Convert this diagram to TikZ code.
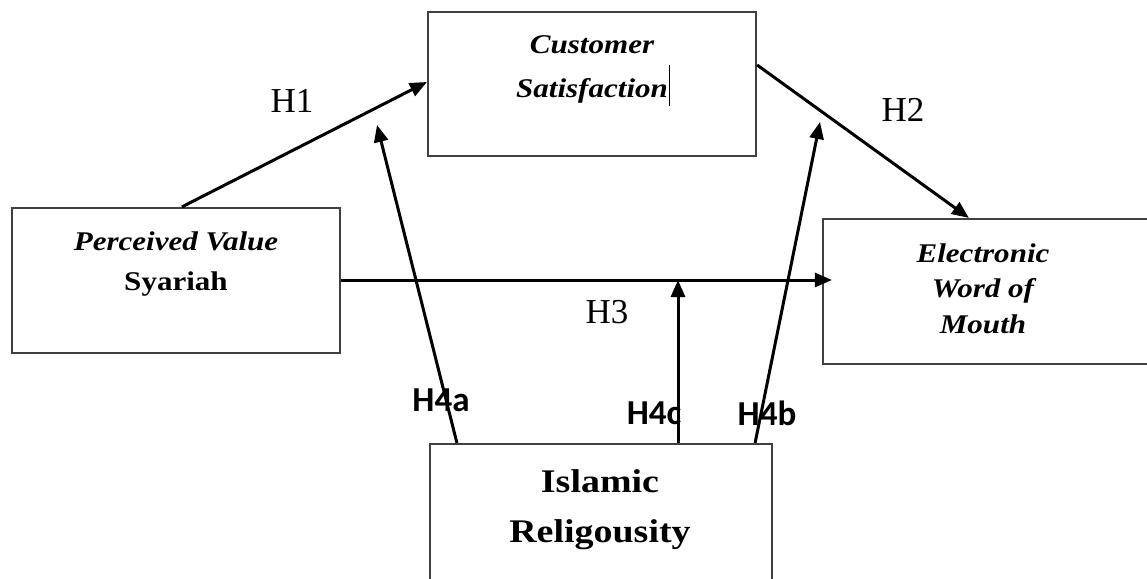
\documentclass[tikz,border=0pt]{standalone}
\usepackage{fontspec}
\setmainfont{Liberation Serif}
\newfontfamily\boxfont[FakeStretch=1.15]{Liberation Serif}
\newfontfamily\hfont{Carlito}
\usetikzlibrary{arrows.meta,calc}
\tikzset{
  varbox/.style={draw=black!75, line width=2.2pt, rectangle, inner sep=0pt},
  boxtext/.style={align=center, inner sep=0pt, anchor=base},
  hyp/.style={inner sep=0pt, font=\fontsize{35}{40}\selectfont},
  hyplab/.style={inner sep=0pt, font=\hfont\bfseries\fontsize{35}{40}\selectfont},
  arr/.style={line width=3pt, -{Triangle[length=17pt,width=14pt]}},
}
\begin{document}
\begin{tikzpicture}[x=1pt,y=-1pt]
\useasboundingbox[fill=white] (0,0) rectangle (1147,578);
% boxes
\node[varbox, minimum width=328pt, minimum height=144pt] (cs) at (592,84) {};
\node[varbox, minimum width=328pt, minimum height=145pt] (pv) at (176,280.5) {};
\node[varbox, minimum width=340pt, minimum height=145pt] (ew) at (993,291.5) {};
\node[varbox, minimum width=342pt, minimum height=180pt] (ir) at (601,534) {};
% box texts (anchor = baseline of last line)
\node[boxtext, font=\boxfont\bfseries\itshape\fontsize{27}{44}\selectfont] (cst) at (592,97)
  {Customer\\Satisfaction\rlap{\hspace{1pt}\rule[-9pt]{1.2pt}{41pt}}};
\node[boxtext, font=\boxfont\bfseries\fontsize{27}{40}\selectfont] (pvt) at (176,290)
  {\itshape Perceived Value\\Syariah};
\node[boxtext, font=\boxfont\bfseries\itshape\fontsize{27}{35.5}\selectfont] (ewt) at (983,333)
  {Electronic\\Word of\\Mouth};
\node[boxtext, font=\boxfont\bfseries\fontsize{33}{50}\selectfont] (irt) at (600,542)
  {Islamic\\Religousity};
% free ends
\coordinate (h4atip) at (377,125);
\coordinate (h4btip) at (820,122);
\coordinate (h4ctip) at (678,280);
% connectors
\draw[arr] ([xshift=171pt]pv.north west) -- ([yshift=2pt]cs.west);
\draw[arr] ([yshift=19pt]cs.east) -- ([xshift=147pt]ew.north west);
\draw[arr] (pv.east |- h4ctip) -- ($(pv.east -| ew.west)+(10,-0.5)$);
\draw[arr] ([xshift=28pt]ir.north west) -- (h4atip);
\draw[arr] (ir.north -| h4ctip) -- (h4ctip);
\draw[arr] ([xshift=-18pt]ir.north east) -- (h4btip);
% labels
\node[hyp] (h1) at (292,101) {H1};
\node[hyp] (h2) at (903,110) {H2};
\node[hyp] (h3) at (607,312) {H3};
\node[hyplab] (h4a) at (441,400) {H4a};
\node[hyplab] (h4c) at (654,413) {H4c};
\node[hyplab] (h4b) at (767,413) {H4b};
\end{tikzpicture}
\end{document}
